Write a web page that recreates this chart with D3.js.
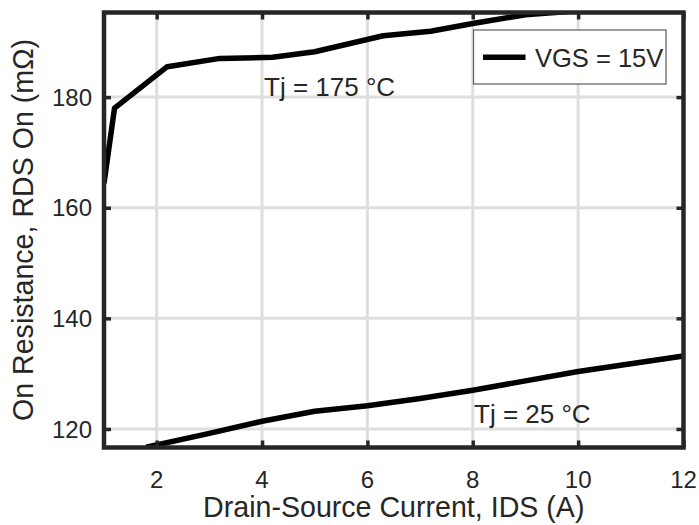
<!DOCTYPE html>
<html>
<head>
<meta charset="utf-8">
<script src="https://cdn.jsdelivr.net/npm/d3@7"></script>
<style>
  html, body { margin: 0; padding: 0; background: #fff; }
  svg { display: block; }
  text { font-family: "Liberation Sans", Arial, Helvetica, sans-serif; fill: #262626; }
</style>
</head>
<body>
<svg id="chart" width="699" height="525"></svg>
<script>
// ---- data ----
const ids175 = [1, 1.2, 2.2, 3.2, 4.2, 5.0, 6.3, 7.2, 8.0, 9.0, 10.0];
const rds175 = [164.4, 178.0, 185.5, 187.0, 187.2, 188.2, 191.1, 191.9, 193.3, 194.9, 195.6];
const ids25 = [1.8, 3, 4, 5, 6, 7, 8, 9, 10, 11, 12];
const rds25 = [116.7, 119.2, 121.4, 123.2, 124.2, 125.5, 127.0, 128.7, 130.4, 131.8, 133.2];
const xTicks = [2, 4, 6, 8, 10, 12];
const yTicks = [120, 140, 160, 180];
const xDomain = [1, 12];
const yDomain = [116.65, 195.3];
const xLabel = "Drain-Source Current, IDS (A)";
const yLabel = "On Resistance, RDS On (mΩ)";
const label175 = "Tj = 175 °C";
const label25 = "Tj = 25 °C";
const legendLabel = "VGS = 15V";

// ---- layout ----
const L = 104, R = 683.5, T = 12.5, B = 447.5;
const svg = d3.select("#chart");
const x = d3.scaleLinear().domain(xDomain).range([L, R]);
const y = d3.scaleLinear().domain(yDomain).range([B, T]);

// grid
const grid = svg.append("g");
grid.selectAll("line.gx").data(xTicks.filter(d => d < xDomain[1])).enter().append("line")
  .attr("x1", d => x(d)).attr("x2", d => x(d)).attr("y1", T).attr("y2", B)
  .attr("stroke", "#dedede").attr("stroke-width", 3);
grid.selectAll("line.gy").data(yTicks).enter().append("line")
  .attr("y1", d => y(d)).attr("y2", d => y(d)).attr("x1", L).attr("x2", R)
  .attr("stroke", "#dedede").attr("stroke-width", 3);

// clip
svg.append("clipPath").attr("id", "clip").append("rect")
  .attr("x", L).attr("y", T).attr("width", R - L).attr("height", B - T);

const line = d3.line().x(d => x(d[0])).y(d => y(d[1]));
const plot = svg.append("g").attr("clip-path", "url(#clip)");
plot.append("path").datum(d3.zip(ids175, rds175)).attr("d", line)
  .attr("fill", "none").attr("stroke", "#000").attr("stroke-width", 5.5).attr("stroke-linejoin", "round");
plot.append("path").datum(d3.zip(ids25, rds25)).attr("d", line)
  .attr("fill", "none").attr("stroke", "#000").attr("stroke-width", 5.5).attr("stroke-linejoin", "round");

// frame axes (inward ticks on all sides)
const tl = 7;
const xAxB = d3.axisBottom(x).tickValues(xTicks).tickSize(-tl).tickFormat("");
const xAxT = d3.axisTop(x).tickValues(xTicks).tickSize(-tl).tickFormat("");
const yAxL = d3.axisLeft(y).tickValues(yTicks).tickSize(-tl).tickFormat("");
const yAxR = d3.axisRight(y).tickValues(yTicks).tickSize(-tl).tickFormat("");
function styleAxis(g) {
  g.select(".domain").remove();
  g.selectAll(".tick line").attr("stroke", "#262626").attr("stroke-width", 3.5);
}
svg.append("g").attr("transform", `translate(0,${B})`).call(xAxB).call(styleAxis);
svg.append("g").attr("transform", `translate(0,${T})`).call(xAxT).call(styleAxis);
svg.append("g").attr("transform", `translate(${L},0)`).call(yAxL).call(styleAxis);
svg.append("g").attr("transform", `translate(${R},0)`).call(yAxR).call(styleAxis);

svg.append("rect").attr("x", L).attr("y", T).attr("width", R - L).attr("height", B - T)
  .attr("fill", "none").attr("stroke", "#262626").attr("stroke-width", 4.5);

// tick labels
svg.selectAll("text.xt").data(xTicks).enter().append("text")
  .attr("x", d => x(d)).attr("y", 487.5).attr("text-anchor", "middle")
  .attr("font-size", 24).text(d => d);
svg.selectAll("text.yt").data(yTicks).enter().append("text")
  .attr("x", 92).attr("y", d => y(d) + 8.6).attr("text-anchor", "end")
  .attr("font-size", 24).text(d => d);

// axis titles
svg.append("text").attr("x", (L + R) / 2).attr("y", 517).attr("text-anchor", "middle")
  .attr("font-size", 28.6).text(xLabel);
svg.append("text").attr("transform", `translate(33,${(T + B) / 2}) rotate(-90)`)
  .attr("text-anchor", "middle").attr("font-size", 28.6).text(yLabel);

// annotations
svg.append("text").attr("x", 264).attr("y", 95.5).attr("font-size", 26).text(label175);
svg.append("text").attr("x", 474).attr("y", 423).attr("font-size", 26).text(label25);

// legend
const lg = svg.append("g");
lg.append("rect").attr("x", 473.5).attr("y", 30).attr("width", 192.5).attr("height", 54)
  .attr("fill", "#fff").attr("stroke", "#5a5a5a").attr("stroke-width", 1.2);
lg.append("line").attr("x1", 483).attr("x2", 525.5).attr("y1", 57.3).attr("y2", 57.3)
  .attr("stroke", "#000").attr("stroke-width", 5.5);
lg.append("text").attr("x", 535).attr("y", 66.5).attr("font-size", 25.5).text(legendLabel);
</script>
</body>
</html>
